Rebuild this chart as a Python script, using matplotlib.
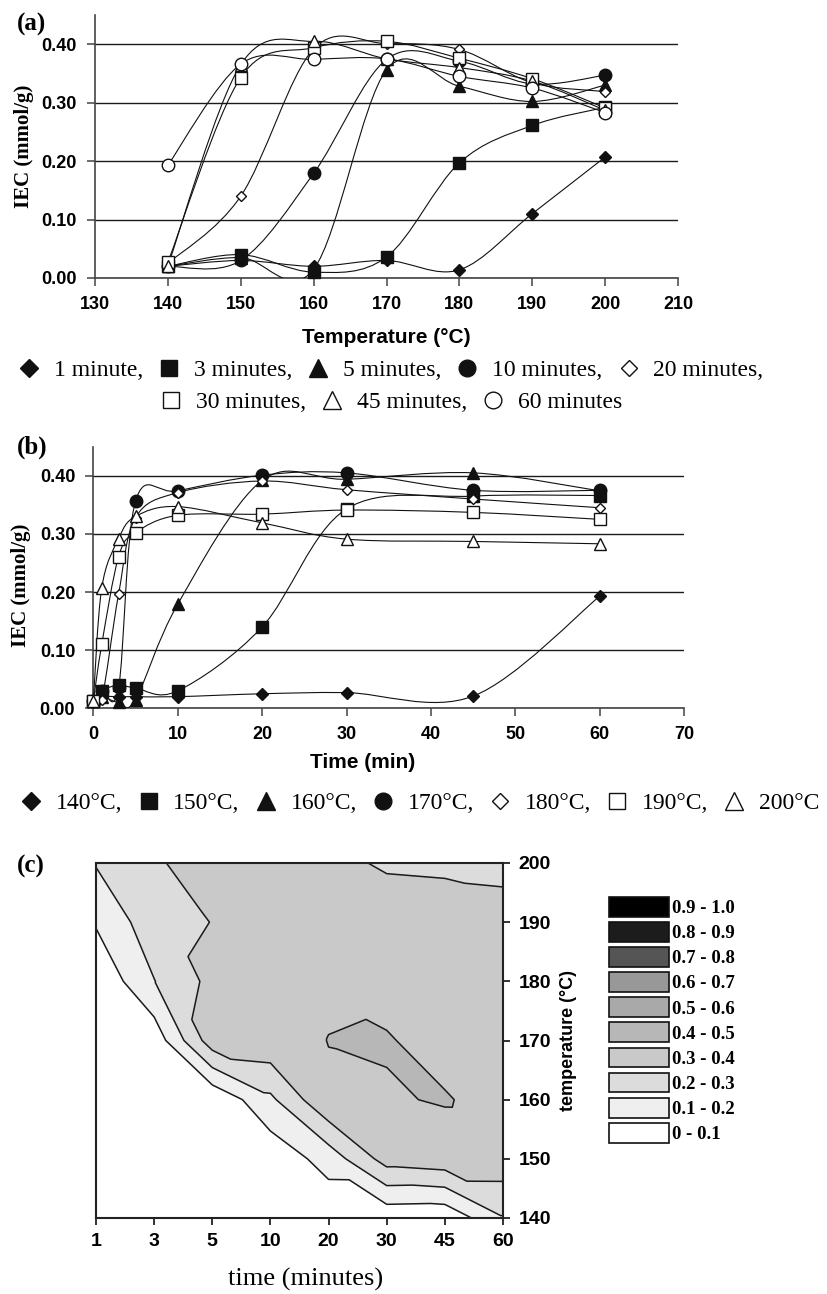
import matplotlib

matplotlib.use("Agg")
import matplotlib.pyplot as plt
import matplotlib.tri as mtri
import numpy as np
from matplotlib.lines import Line2D
from matplotlib.patches import Patch, PathPatch
from matplotlib.path import Path

# IEC (mmol/g): one row per reaction temperature,
# one value per reaction time
temps = [140, 150, 160, 170, 180, 190, 200]
times = [1, 3, 5, 10, 20, 30, 45, 60]
iec_140C = [0.020, 0.020, 0.020, 0.020, 0.025, 0.027, 0.021, 0.193]
iec_150C = [0.030, 0.040, 0.035, 0.030, 0.140, 0.343, 0.365, 0.366]
iec_160C = [0.020, 0.010, 0.015, 0.179, 0.392, 0.394, 0.405, 0.374]
iec_170C = [0.030, 0.036, 0.356, 0.374, 0.401, 0.405, 0.375, 0.375]
iec_180C = [0.014, 0.197, 0.328, 0.371, 0.391, 0.376, 0.360, 0.345]
iec_190C = [0.110, 0.261, 0.302, 0.332, 0.334, 0.341, 0.337, 0.325]
iec_200C = [0.207, 0.292, 0.330, 0.347, 0.319, 0.291, 0.287, 0.283]
iec_start = [0.012, 0.012, 0.012, 0.012, 0.012, 0.012, 0.012]  # t = 0 in (b)

time_labels = ["1 minute,", "3 minutes,", "5 minutes,", "10 minutes,",
               "20 minutes,", "30 minutes,", "45 minutes,", "60 minutes"]
temp_labels = ["140°C,", "150°C,", "160°C,", "170°C,", "180°C,", "190°C,", "200°C"]
band_labels = ["0 - 0.1", "0.1 - 0.2", "0.2 - 0.3", "0.3 - 0.4", "0.4 - 0.5",
               "0.5 - 0.6", "0.6 - 0.7", "0.7 - 0.8", "0.8 - 0.9", "0.9 - 1.0"]

rows = [iec_140C, iec_150C, iec_160C, iec_170C, iec_180C, iec_190C, iec_200C]

# marker, size, filled -- same order for times (a) and temperatures (b)
MARKS = [("D", 6.5, True), ("s", 8.5, True), ("^", 9, True), ("o", 9, True),
         ("D", 5, False), ("s", 8.5, False), ("^", 9, False), ("o", 9, False)]
LEG_MARKS = [("D", 9.5), ("s", 12), ("^", 13), ("o", 12),
             ("D", 8.5), ("s", 12), ("^", 13), ("o", 12)]
BAND_COLORS = ["#ffffff", "#efefef", "#dcdcdc", "#c9c9c9", "#b7b7b7",
               "#a9a9a9", "#989898", "#555555", "#1c1c1c", "#000000"]
INK = "#111111"
SANS = "Liberation Sans"
SERIF = "Liberation Serif"

W, H = 827, 1294


def smooth_path(xs, ys):
    """Excel-like smoothed line: Catmull-Rom segments as cubic Beziers."""
    p = np.column_stack([xs, ys]).astype(float)
    n = len(p)
    verts, codes = [p[0]], [Path.MOVETO]
    for i in range(n - 1):
        p0, p1, p2, p3 = p[max(i - 1, 0)], p[i], p[i + 1], p[min(i + 2, n - 1)]
        verts += [p1 + (p2 - p0) / 6, p2 - (p3 - p1) / 6, p2]
        codes += [Path.CURVE4] * 3
    return Path(verts, codes)


def style_ticks(ax, size):
    for lab in ax.get_xticklabels() + ax.get_yticklabels():
        lab.set_fontfamily(SANS)
        lab.set_fontweight("bold")
        lab.set_fontsize(size)


def series_axes(rect):
    ax = fig.add_axes(rect)
    for s in ("top", "right"):
        ax.spines[s].set_visible(False)
    for s in ("left", "bottom"):
        ax.spines[s].set_color("#444444")
        ax.spines[s].set_linewidth(1.2)
    ax.set_ylim(0, 0.45)
    ax.set_yticks(np.arange(0, 0.41, 0.1))
    ax.yaxis.set_major_formatter(matplotlib.ticker.FormatStrFormatter("%.2f"))
    ax.yaxis.grid(True, color="#1a1a1a", lw=1.0)
    ax.set_axisbelow(True)
    ax.tick_params(direction="out", length=6, width=1.1, color="#444444", pad=7)
    ax.set_ylabel("IEC (mmol/g)", family=SERIF, weight="bold", fontsize=15)
    return ax


def draw_series(ax, xs, ys, k):
    m, ms, filled = MARKS[k]
    ax.add_patch(PathPatch(smooth_path(xs, ys), fill=False, ec=INK, lw=0.8, zorder=3))
    ax.plot(xs, ys, ls="none", marker=m, ms=ms, mec=INK, mew=1.0,
            mfc=INK if filled else "white", zorder=4, clip_on=False)


def marker_legend(ks, labels, xc, yc):
    handles = []
    for k in ks:
        m, ms = LEG_MARKS[k]
        handles.append(Line2D([], [], ls="none", marker=m, ms=ms, mec=INK, mew=1.0,
                              mfc=INK if MARKS[k][2] else "white"))
    fig.legend(handles, labels, loc="center", bbox_to_anchor=(xc / W, 1 - yc / H),
               ncol=len(handles), frameon=False, handlelength=0.9,
               handletextpad=0.6, columnspacing=0.65, borderpad=0,
               prop=dict(family=SERIF, size=17))


fig = plt.figure(figsize=(W / 100, H / 100), dpi=100)

# ---- (a) IEC vs temperature, one curve per reaction time
ax_a = series_axes([95 / W, 1 - 278 / H, 583 / W, 263 / H])
ax_a.set_xlim(130, 210)
ax_a.set_xticks(np.arange(130, 211, 10))
style_ticks(ax_a, 13)
for j in range(len(times)):
    draw_series(ax_a, temps, [r[j] for r in rows], j)
ax_a.set_xlabel("Temperature (°C)", family=SANS, weight="bold", fontsize=15)
ax_a.xaxis.set_label_coords(0.5, -0.19)
ax_a.yaxis.set_label_coords(-0.105, 0.5)

marker_legend(range(5), time_labels[:5], 391, 370)
marker_legend(range(5, 8), time_labels[5:], 391, 402)

# ---- (b) IEC vs time, one curve per temperature
ax_b = series_axes([93.3 / W, 1 - 708.3 / H, 591 / W, 261.6 / H])
ax_b.set_xlim(0, 70)
ax_b.set_xticks(np.arange(0, 71, 10))
style_ticks(ax_b, 13)
for i in range(len(temps)):
    draw_series(ax_b, [0] + times, [iec_start[i]] + rows[i], i)
ax_b.set_xlabel("Time (min)", family=SANS, weight="bold", fontsize=15)
ax_b.xaxis.set_label_coords(0.456, -0.171)
ax_b.yaxis.set_label_coords(-0.105, 0.47)

marker_legend(range(7), temp_labels, 420, 803)

# ---- (c) contour map, time on a categorical axis
ax_c = fig.add_axes([96 / W, 1 - 1218 / H, 407 / W, 355 / H])
levels = np.arange(0, 1.01, 0.1)
xi = np.arange(len(times))
gx, gy = np.meshgrid(xi, temps)
nx = len(times)
tris = []
for i in range(len(temps) - 1):
    for j in range(nx - 1):
        a = i * nx + j
        # split every cell along the "\" diagonal, like the bands run
        tris += [[a, a + 1, a + nx], [a + nx, a + 1, a + nx + 1]]
tri = mtri.Triangulation(gx.ravel(), gy.ravel(), tris)
Z = np.array(rows).ravel()
ax_c.tricontourf(tri, Z, levels=levels, colors=BAND_COLORS)
ax_c.tricontour(tri, Z, levels=levels[1:-1], colors="#1a1a1a", linewidths=1.1)
ax_c.set_xlim(0, nx - 1)
ax_c.set_ylim(140, 200)
ax_c.set_xticks(xi)
ax_c.set_xticklabels([str(t) for t in times])
ax_c.yaxis.tick_right()
ax_c.yaxis.set_label_position("right")
ax_c.set_yticks(temps)
ax_c.tick_params(direction="out", length=5, width=1.3, color="#222222", pad=6)
style_ticks(ax_c, 14)
for s in ax_c.spines.values():
    s.set_color("#222222")
    s.set_linewidth(1.5)
ax_c.set_xlabel("time (minutes)", family=SERIF, fontsize=19)
ax_c.xaxis.set_label_coords(0.514, -0.14)
ax_c.set_ylabel("temperature (°C)", family=SANS, weight="bold", fontsize=13)
ax_c.yaxis.set_label_coords(1.14, 0.5)

band_handles = [Patch(fc=c, ec="#111111", lw=1.2) for c in BAND_COLORS]
fig.legend(band_handles[::-1], band_labels[::-1], loc="upper left",
           bbox_to_anchor=(609 / W, 1 - 897 / H), frameon=False,
           handlelength=3.2, handleheight=1.25, labelspacing=0.26,
           handletextpad=0.15, borderpad=0, borderaxespad=0,
           prop=dict(family=SERIF, weight="bold", size=13.5))

# ---- panel letters
for letter, y in (("(a)", 24), ("(b)", 447), ("(c)", 866)):
    fig.text(17 / W, 1 - y / H, letter, family=SERIF, weight="bold", fontsize=18,
             ha="left", va="center")

fig.savefig("out.png", dpi=100)
